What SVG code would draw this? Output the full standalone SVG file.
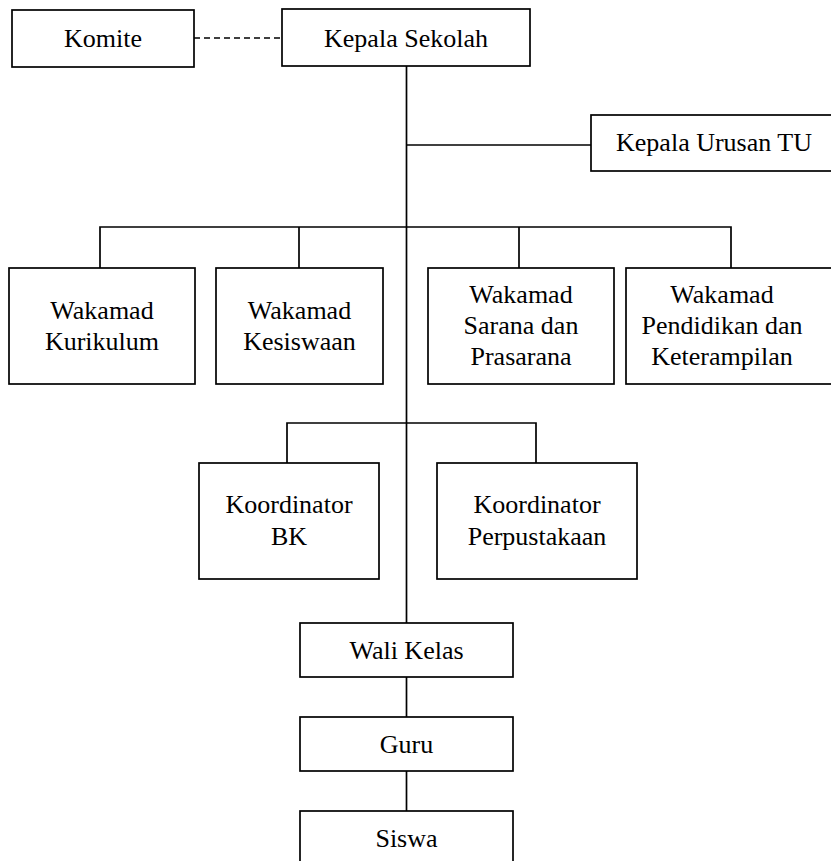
<svg xmlns="http://www.w3.org/2000/svg" width="831" height="861" viewBox="0 0 831 861">
<style>
.box{fill:#fff;stroke:#000;stroke-width:1.7}
.ln{fill:none;stroke:#000;stroke-width:1.7}
.dash{fill:none;stroke:#000;stroke-width:1.7;stroke-dasharray:6 4}
.t{font-family:"Liberation Serif","Times New Roman",serif;font-size:26px;fill:#000;text-anchor:middle}
</style>
<rect width="831" height="861" fill="#fff"/>
<g id="connectors">
<line class="dash" x1="194" y1="38" x2="282" y2="38"/>
<line class="ln" x1="406.5" y1="66" x2="406.5" y2="623"/>
<line class="ln" x1="406.5" y1="145" x2="591" y2="145"/>
<polyline class="ln" points="100,268 100,227 731,227 731,268"/>
<line class="ln" x1="299" y1="227" x2="299" y2="268"/>
<line class="ln" x1="519" y1="227" x2="519" y2="268"/>
<polyline class="ln" points="287,463 287,423 536,423 536,463"/>
<line class="ln" x1="406.5" y1="677" x2="406.5" y2="717"/>
<line class="ln" x1="406.5" y1="771" x2="406.5" y2="811"/>
</g>
<g id="komite"><rect class="box" x="12" y="10" width="182" height="57"/><text class="t" x="103" y="47">Komite</text></g>
<g id="kepala-sekolah"><rect class="box" x="282" y="9" width="248" height="57"/><text class="t" x="406" y="47">Kepala Sekolah</text></g>
<g id="kepala-urusan-tu"><rect class="box" x="591" y="115" width="250" height="56"/><text class="t" x="714" y="151">Kepala Urusan TU</text></g>
<g id="wakamad-kurikulum"><rect class="box" x="9" y="268" width="186" height="116"/><text class="t" x="102" y="319">Wakamad</text><text class="t" x="102" y="350">Kurikulum</text></g>
<g id="wakamad-kesiswaan"><rect class="box" x="216" y="268" width="167" height="116"/><text class="t" x="299.5" y="319">Wakamad</text><text class="t" x="299.5" y="350">Kesiswaan</text></g>
<g id="wakamad-sarana"><rect class="box" x="428" y="268" width="186" height="116"/><text class="t" x="521" y="303">Wakamad</text><text class="t" x="521" y="334">Sarana dan</text><text class="t" x="521" y="365">Prasarana</text></g>
<g id="wakamad-pendidikan"><rect class="box" x="626" y="268" width="215" height="116"/><text class="t" x="722" y="303">Wakamad</text><text class="t" x="722" y="334">Pendidikan dan</text><text class="t" x="722" y="365">Keterampilan</text></g>
<g id="koordinator-bk"><rect class="box" x="199" y="463" width="180" height="116"/><text class="t" x="289" y="513">Koordinator</text><text class="t" x="289" y="545">BK</text></g>
<g id="koordinator-perpustakaan"><rect class="box" x="437" y="463" width="200" height="116"/><text class="t" x="537" y="513">Koordinator</text><text class="t" x="537" y="545">Perpustakaan</text></g>
<g id="wali-kelas"><rect class="box" x="300" y="623" width="213" height="54"/><text class="t" x="406.5" y="659">Wali Kelas</text></g>
<g id="guru"><rect class="box" x="300" y="717" width="213" height="54"/><text class="t" x="406.5" y="753">Guru</text></g>
<g id="siswa"><rect class="box" x="300" y="811" width="213" height="60"/><text class="t" x="406.5" y="847">Siswa</text></g>
</svg>
